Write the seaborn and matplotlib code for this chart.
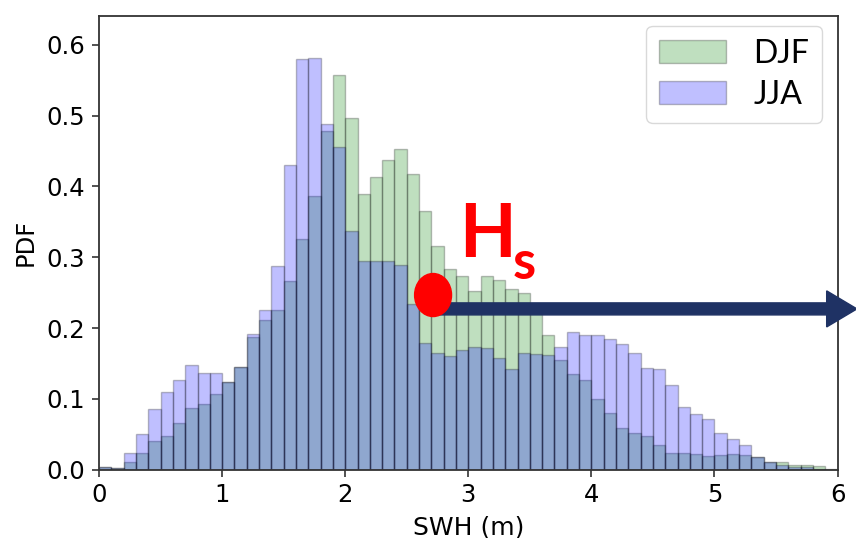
import numpy as np
import pandas as pd
import matplotlib
matplotlib.use("Agg")
import matplotlib.pyplot as plt
from matplotlib.patches import Ellipse, FancyArrow
import seaborn as sns

# ---- data (bin edges 0..6 step 0.1, PDF heights) ----
bin_edges = [round(0.1 * i, 2) for i in range(61)]
bin_centers = [round(0.1 * i + 0.05, 3) for i in range(60)]

pdf_djf = [0.004, 0.002, 0.011, 0.023, 0.041, 0.048, 0.066, 0.087, 0.093, 0.107,
           0.123, 0.145, 0.187, 0.212, 0.226, 0.267, 0.326, 0.387, 0.479, 0.558,
           0.497, 0.389, 0.414, 0.437, 0.453, 0.418, 0.366, 0.316, 0.284, 0.273,
           0.253, 0.274, 0.268, 0.255, 0.249, 0.228, 0.190, 0.155, 0.135, 0.126,
           0.100, 0.080, 0.059, 0.052, 0.047, 0.035, 0.024, 0.024, 0.022, 0.019,
           0.020, 0.022, 0.020, 0.018, 0.011, 0.010, 0.006, 0.006, 0.005, 0.001]

pdf_jja = [0.004, 0.002, 0.024, 0.050, 0.086, 0.110, 0.127, 0.148, 0.137, 0.136,
           0.124, 0.145, 0.192, 0.225, 0.288, 0.430, 0.580, 0.582, 0.489, 0.456,
           0.337, 0.294, 0.295, 0.295, 0.289, 0.234, 0.179, 0.165, 0.160, 0.169,
           0.173, 0.172, 0.157, 0.142, 0.164, 0.163, 0.162, 0.173, 0.194, 0.190,
           0.190, 0.184, 0.177, 0.164, 0.144, 0.142, 0.119, 0.089, 0.078, 0.071,
           0.051, 0.043, 0.034, 0.017, 0.011, 0.006, 0.004, 0.003, 0.001, 0.000]

seasons = ["DJF", "JJA"]
season_colors = ["green", "blue"]
x_ticks = [0, 1, 2, 3, 4, 5, 6]
y_ticks = [0.0, 0.1, 0.2, 0.3, 0.4, 0.5, 0.6]
x_label = "SWH (m)"
y_label = "PDF"

df = pd.DataFrame({
    "swh": bin_centers + bin_centers,
    "pdf": pdf_djf + pdf_jja,
    "season": ["DJF"] * len(bin_centers) + ["JJA"] * len(bin_centers),
})

sns.set_theme(style="ticks")
plt.rcParams["font.family"] = ["DejaVu Sans"]
plt.rcParams["text.color"] = "black"
plt.rcParams["axes.labelcolor"] = "black"
plt.rcParams["xtick.color"] = "black"
plt.rcParams["ytick.color"] = "black"

fig = plt.figure(figsize=(8.56, 5.38), dpi=100)
ax = fig.add_axes([0.1157, 0.1273, 0.8627, 0.8430])

for season, col in zip(seasons, season_colors):
    sub = df[df["season"] == season].reset_index(drop=True)
    sns.histplot(data=sub, x="swh", weights="pdf", bins=bin_edges, stat="count",
                 color=col, alpha=0.25, edgecolor=(0, 0, 0, 0.25), linewidth=1.0,
                 label=season, ax=ax)

ax.set_xlim(0, 6)
ax.set_ylim(0, 0.641)
ax.set_xticks(x_ticks)
ax.set_yticks(y_ticks)
ax.set_yticklabels([f"{v:.1f}" for v in y_ticks])
ax.tick_params(labelsize=17.5, length=5, width=1.2, pad=5, color="#333333",
               labelcolor="black")
ax.set_xlabel(x_label, fontsize=18, labelpad=6, color="black")
ax.set_ylabel(y_label, fontsize=17.5, labelpad=6, color="black")
for sp in ax.spines.values():
    sp.set_visible(True)
    sp.set_color("#333333")
    sp.set_linewidth(1.3)

leg = ax.legend(loc="upper right", bbox_to_anchor=(0.979, 0.978), borderaxespad=0,
                prop={"family": "Lato", "size": 23}, handlelength=2.1,
                handleheight=0.75, handletextpad=0.85, labelspacing=0.35,
                borderpad=0.4, frameon=True)
leg.get_frame().set_edgecolor("#d0d0d0")
for t in leg.get_texts():
    t.set_color("black")

# annotation: arrow, red dot, Hs label
ax.add_patch(FancyArrow(2.75, 0.227, 6.158 - 2.75, 0, width=0.017, head_width=0.051,
                        head_length=0.246, length_includes_head=True,
                        color="#1F3264", clip_on=False, zorder=5))
ax.add_patch(Ellipse((2.714, 0.2466), 0.30, 0.0608, color="#FF0000",
                     clip_on=False, zorder=6))
ax.text(2.925, 0.300, "H", color="#FF0000", fontsize=53, fontweight="bold",
        family="Lato", ha="left", va="baseline", zorder=6)
ax.text(3.36, 0.269, "s", color="#FF0000", fontsize=38, fontweight="bold",
        family="Lato", ha="left", va="baseline", zorder=6)

fig.savefig("out.png", dpi=100)
